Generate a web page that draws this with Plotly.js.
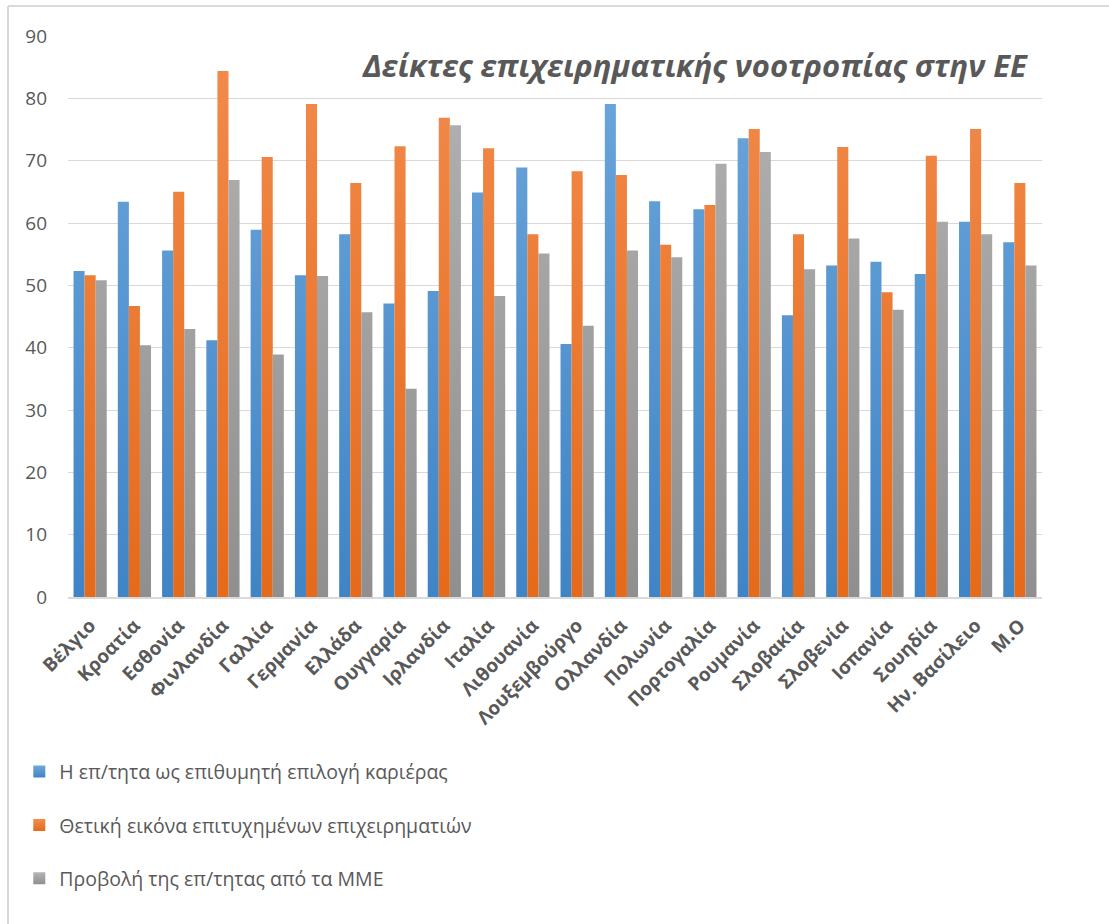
<!DOCTYPE html>
<html>
<head>
<meta charset="utf-8">
<script src="https://cdn.plot.ly/plotly-3.0.1.min.js"></script>
<style>
  html, body { margin: 0; padding: 0; background: #ffffff; }
  #chart { width: 1109px; height: 924px; }
</style>
</head>
<body>
<div id="chart"></div>
<script>
// Countries (and EU average) on the category axis
const countries = [
  "Βέλγιο", "Κροατία", "Εσθονία", "Φινλανδία", "Γαλλία", "Γερμανία",
  "Ελλάδα", "Ουγγαρία", "Ιρλανδία", "Ιταλία", "Λιθουανία", "Λουξεμβούργο",
  "Ολλανδία", "Πολωνία", "Πορτογαλία", "Ρουμανία", "Σλοβακία", "Σλοβενία",
  "Ισπανία", "Σουηδία", "Ην. Βασίλειο", "Μ.Ο"
];

// Entrepreneurship as a desirable career choice
const careerChoice = [
  52.3, 63.4, 55.6, 41.2, 58.9, 51.6, 58.2, 47.1, 49.1, 64.9, 68.9, 40.6,
  79.1, 63.5, 62.2, 73.6, 45.2, 53.2, 53.8, 51.8, 60.2, 56.9
];

// Positive image of successful entrepreneurs
const positiveImage = [
  51.6, 46.7, 65.0, 84.4, 70.6, 79.1, 66.4, 72.3, 76.9, 72.0, 58.2, 68.3,
  67.7, 56.5, 62.9, 75.1, 58.2, 72.2, 48.9, 70.8, 75.1, 66.4
];

// Media attention to entrepreneurship
const mediaAttention = [
  50.8, 40.4, 43.0, 66.9, 38.9, 51.5, 45.7, 33.4, 75.7, 48.3, 55.1, 43.5,
  55.6, 54.5, 69.5, 71.4, 52.6, 57.5, 46.1, 60.2, 58.2, 53.2
];

const seriesNames = [
  "Η επ/τητα ως επιθυμητή επιλογή καριέρας",
  "Θετική εικόνα επιτυχημένων επιχειρηματιών",
  "Προβολή της επ/τητας από τα ΜΜΕ"
];

const yTicks = [0, 10, 20, 30, 40, 50, 60, 70, 80, 90];

// base colour plus lighter (top) and darker (bottom) shades for each series
const palette = [
  { base: "#5b9bd5", top: "#6fa8dc", bottom: "#3f84c6" },
  { base: "#ed7d31", top: "#f28c4e", bottom: "#e56a1a" },
  { base: "#a5a5a5", top: "#b4b4b4", bottom: "#8f8f8f" }
];

const textColor = "#595959";
const fontFamily = "'Open Sans', 'Noto Sans', sans-serif";

function barTrace(name, values, color, group) {
  return {
    type: "bar",
    name: name,
    x: countries,
    y: values,
    legendgroup: group,
    marker: { color: color, line: { width: 0 } },
    hoverinfo: "x+y+name"
  };
}

const data = [
  barTrace(seriesNames[0], careerChoice, palette[0].base, "g1"),
  barTrace(seriesNames[1], positiveImage, palette[1].base, "g2"),
  barTrace(seriesNames[2], mediaAttention, palette[2].base, "g3")
];

const layout = {
  width: 1109,
  height: 924,
  paper_bgcolor: "#ffffff",
  plot_bgcolor: "#ffffff",
  margin: { l: 68, r: 67, t: 36, b: 327, pad: 0 },
  font: { family: fontFamily, color: textColor, size: 18 },
  barmode: "group",
  bargap: 0.25,
  bargroupgap: 0,
  title: {
    text: "<b><i>Δείκτες επιχειρηματικής νοοτροπίας στην ΕΕ</i></b>",
    font: { family: fontFamily, size: 31, color: textColor },
    xref: "container",
    yref: "container",
    x: 0.926,
    xanchor: "right",
    y: 0.9286,
    yanchor: "middle"
  },
  xaxis: {
    type: "category",
    tickangle: -45,
    tickfont: { family: fontFamily, size: 19, color: textColor, weight: "bold" },
    showgrid: false,
    showline: true,
    linecolor: "#d9d9d9",
    linewidth: 2,
    ticks: "",
    ticklabelstandoff: 8,
    fixedrange: true
  },
  yaxis: {
    range: [0, 90],
    tickvals: yTicks,
    ticktext: yTicks.map(String),
    tickfont: { family: fontFamily, size: 19, color: textColor },
    showgrid: true,
    gridcolor: "#d9d9d9",
    gridwidth: 1,
    zeroline: false,
    showline: false,
    ticks: "",
    ticklabelstandoff: 20,
    fixedrange: true
  },
  showlegend: true,
  legend: {
    orientation: "v",
    x: -0.05,
    xanchor: "left",
    y: -0.277,
    yanchor: "top",
    font: { family: fontFamily, size: 19.5, color: textColor },
    tracegroupgap: 25,
    bgcolor: "rgba(0,0,0,0)",
    borderwidth: 0
  },
  shapes: [
    // chart frame: top and left edges
    { type: "line", xref: "paper", yref: "paper", x0: -0.0616, x1: 1.07, y0: 1.0535, y1: 1.0535,
      line: { color: "#d9d9d9", width: 2 } },
    { type: "line", xref: "paper", yref: "paper", x0: -0.0616, x1: -0.0616, y0: 1.0535, y1: -0.6,
      line: { color: "#d9d9d9", width: 2 } }
  ]
};

function addGradient(defs, ns, id, p, userSpaceHeight) {
  const g = document.createElementNS(ns, "linearGradient");
  g.setAttribute("id", id);
  if (userSpaceHeight) {
    g.setAttribute("gradientUnits", "userSpaceOnUse");
    g.setAttribute("y2", String(userSpaceHeight));
  } else {
    g.setAttribute("y2", "1");
  }
  g.setAttribute("x1", "0"); g.setAttribute("x2", "0"); g.setAttribute("y1", "0");
  [["0", p.top], ["1", p.bottom]].forEach(([off, col]) => {
    const s = document.createElementNS(ns, "stop");
    s.setAttribute("offset", off);
    s.setAttribute("stop-color", col);
    g.appendChild(s);
  });
  defs.appendChild(g);
}

// vertical shading on the bars: lighter at the top, darker towards the axis
function shadeBars(gd) {
  const svg = gd.querySelector(".main-svg");
  if (!svg) return;
  const ns = "http://www.w3.org/2000/svg";
  let defs = svg.querySelector("defs");
  if (!defs) { defs = document.createElementNS(ns, "defs"); svg.insertBefore(defs, svg.firstChild); }
  palette.forEach((p, i) => {
    addGradient(defs, ns, "barShade" + i, p, gd._fullLayout._size.h);
    addGradient(defs, ns, "legShade" + i, p, 0);
  });
  gd.querySelectorAll(".barlayer .trace.bars").forEach((tr, i) => {
    tr.querySelectorAll("path").forEach(pth => { pth.style.fill = "url(#barShade" + i + ")"; });
  });
  gd.querySelectorAll(".legend .traces").forEach((tr, i) => {
    tr.querySelectorAll(".legendpoints path").forEach(pth => { pth.style.fill = "url(#legShade" + i + ")"; });
  });
}

Plotly.newPlot("chart", data, layout, { displayModeBar: false, staticPlot: true })
  .then(shadeBars);
</script>
</body>
</html>
